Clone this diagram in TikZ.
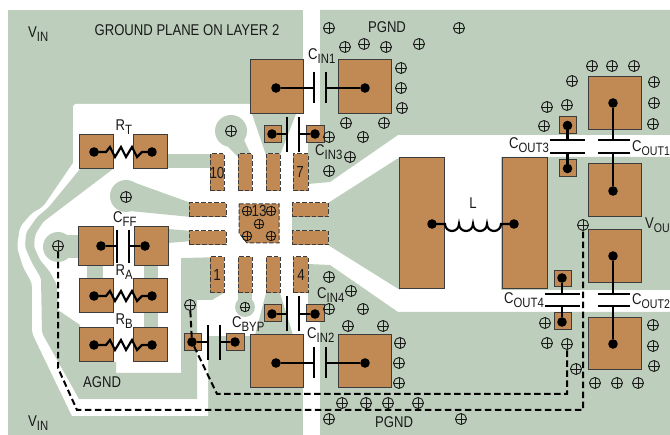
\documentclass[tikz,border=0pt]{standalone}
\usepackage{fontspec}
\setmainfont{Liberation Sans}[FakeStretch=0.84]
\definecolor{plane}{RGB}{189,207,188}
\definecolor{copper}{RGB}{193,138,84}
\definecolor{ink}{RGB}{25,25,25}
\newcommand\lbl[2]{#1\raisebox{-3.5pt}{\fontsize{13.5}{14}\selectfont #2}}
\newcommand\lblt[2]{#1\raisebox{-3.5pt}{\fontsize{12.6}{14}\selectfont #2}}
\tikzset{
  gp/.style={fill=plane,draw=none},
  wp/.style={fill=white,draw=none},
  padn/.style={rectangle,draw=ink!85,fill=copper,line width=1pt,inner sep=0pt,outer sep=0pt},
  pinn/.style={padn,dash pattern=on 4.5pt off 2pt},
  dotn/.style={circle,fill=black,draw=none,minimum size=9.6pt,inner sep=0pt,outer sep=0pt},
  wire/.style={draw=black,line width=2.2pt},
  plate/.style={draw=black,line width=2.6pt},
  trace/.style={draw=black,line width=2pt,dash pattern=on 6.5pt off 3.5pt},
  via/.style={circle,draw=ink,line width=0.9pt,minimum size=11pt,inner sep=0pt,
    path picture={\draw[line width=0.8pt,ink] (path picture bounding box.north)--(path picture bounding box.south)
      (path picture bounding box.west)--(path picture bounding box.east);}},
  smallvia/.style={via,minimum size=9.5pt},
  txt/.style={font=\fontsize{15.6}{17}\selectfont,text=ink,inner sep=0pt,anchor=west},
  pintxt/.style={font=\fontsize{16}{17}\selectfont,text=ink,inner sep=0pt}
}
\newcommand\padbox[6][padn]{\node[#1,minimum width={(#5-#3)*1pt},minimum height={(#6-#4)*1pt}] (#2) at ({(#3+#5)/2},{(#4+#6)/2}) {};}
\newcommand\capH[8]{%
  \node[dotn] (#1a) at (#2,#6) {}; \node[dotn] (#1b) at (#5,#6) {};
  \coordinate (#1p) at (#3,#6); \coordinate (#1q) at (#4,#6);
  \draw[plate] (#3,#7)--(#3,#8); \draw[plate] (#4,#7)--(#4,#8);
  \draw[wire] (#1a)--(#1p); \draw[wire] (#1b)--(#1q);}
\newcommand\capV[8]{%
  \node[dotn] (#1a) at (#2,#3) {}; \node[dotn] (#1b) at (#2,#6) {};
  \coordinate (#1p) at (#2,#4); \coordinate (#1q) at (#2,#5);
  \draw[plate] (#7,#4)--(#8,#4); \draw[plate] (#7,#5)--(#8,#5);
  \draw[wire] (#1a)--(#1p); \draw[wire] (#1b)--(#1q);}
\newcommand\resH[4]{%
  \node[dotn] (#1a) at (#2,#4) {}; \node[dotn] (#1b) at (#3,#4) {};
  \draw[wire,line join=miter] (#1a.center) -- ++(12,0) -- ++(4,-5) -- ++(5,10) -- ++(6,-10) -- ++(5,10) -- ++(6,-10) -- ++(5,10) -- ++(5,-5) -- (#1b.center);}
\begin{document}
\begin{tikzpicture}[x=1pt,y=-1pt]
\useasboundingbox (0,0) rectangle (670,435);
\clip (0,0) rectangle (670,435);
% planes
\fill[gp] (8,10) rectangle (303,435);
\fill[gp] (320,10) -- (670,10) -- (670,435) -- (320,435) -- (320,323) -- (308,305) -- (308,264) -- (330,265) -- (398,312) -- (670,312) -- (670,290) -- (501,290) -- (501,157) -- (670,157) -- (670,135) -- (398,135) -- (330,182) -- (308,184) -- (308,143) -- (320,125) -- cycle;
% clearance on the left
\fill[wp,rounded corners=3pt] (303,104) -- (73,104) [rounded corners=0pt] -- (73,163) [rounded corners=4pt] -- (43,207) -- (32,213) -- (20,227) -- (17,247) -- (23,267) -- (32,283) -- (32,333) [rounded corners=0pt] -- (72,416) -- (208,416) -- (208,336) -- (303,336) -- cycle;
% AGND copper
\fill[gp,rounded corners=3pt] (80,169) -- (48,208) -- (37,217) -- (26,233) -- (25,247) -- (32,263) -- (41,278) -- (42,333) [rounded corners=0pt] -- (79,399) -- (197,399) -- (197,300) -- (212,300) -- (224,293) -- (224,257) -- (183,258) -- (181,258) -- (181,373) -- (116,373) -- (116,362) -- (80,362) -- (80,325) -- (58,310) [rounded corners=3pt] -- (57,285) -- (50,272) -- (40,260) -- (34,247) -- (35,235) -- (43,222) [rounded corners=0pt] -- (113,169) -- cycle;
% islands
\fill[gp] (252,114) -- (296,114) -- (280,155) -- (266,155) -- cycle;
\fill[gp] (255,335) -- (293,335) -- (280,293) -- (266,293) -- cycle;
\fill[gp] (292,203) -- (328,203) -- (400,157) -- (400,290) -- (328,245) -- (292,245) -- cycle;
\fill[gp] (167,154) rectangle (212,168);
\fill[gp] (168,229) -- (192,231) -- (192,241) -- (168,243) -- cycle;
\fill[gp] (87,260) rectangle (103,285);
\fill[gp] (144,260) rectangle (158,285);
\fill[gp] (144,310) rectangle (158,332);
\fill[gp] (58,247) circle[radius=15];
\fill[gp] (58,235) rectangle (80,258);
\fill[gp] (126,196) circle[radius=16];
\fill[gp] (130,181) -- (191,203) -- (191,217) -- (130,211) -- cycle;
\fill[gp] (231,131) circle[radius=16];
\fill[gp] (243,138) -- (252,157) -- (238,157) -- (228,147) -- cycle;
\fill[gp] (245,307) circle[radius=10];
\fill[gp] (238,291) rectangle (252,305);
% component pads
\padbox{cinoa}{250}{60}{303}{113.5}
\padbox{cinob}{338}{60}{391}{113.5}
\padbox{cinta}{264}{126}{281}{143}
\padbox{cintb}{306}{126}{324}{143}
\padbox{rta}{79}{135}{113}{169}
\padbox{rtb}{133}{135}{167}{169}
\padbox{cffa}{78}{227}{113}{266}
\padbox{cffb}{134}{227}{168}{266}
\padbox{raa}{79}{279}{113}{313}
\padbox{rab}{133}{279}{167}{313}
\padbox{rba}{79}{328}{113}{362}
\padbox{rbb}{133}{328}{167}{362}
\padbox{cbya}{184}{334}{201}{351}
\padbox{cbyb}{226}{334}{244}{351}
\padbox{cifa}{264}{305}{281}{322}
\padbox{cifb}{306}{305}{324}{322}
\padbox{citwa}{250}{335}{303}{388}
\padbox{citwb}{338}{335}{391}{388}
\padbox{la}{399}{157.5}{444}{289}
\padbox{lb}{502}{157.5}{547}{289}
\padbox{cothrA}{559}{117}{576}{134}
\padbox{cothrB}{559}{160}{576}{177}
\padbox{cooA}{588}{77}{641}{130}
\padbox{cooB}{588}{164}{641}{217}
\padbox{cotA}{588}{230}{641}{283}
\padbox{cotB}{588}{318}{641}{370}
\padbox{cofA}{554}{271}{571}{287}
\padbox{cofB}{554}{313}{571}{330}
% IC pins
\padbox[pinn]{p10}{210}{154}{224}{191}
\padbox[pinn]{p9}{238}{154}{252}{191}
\padbox[pinn]{p8}{266}{154}{280}{191}
\padbox[pinn]{p7}{293}{154}{308}{191}
\padbox[pinn]{p1}{210}{257}{224}{293}
\padbox[pinn]{p2}{238}{257}{252}{293}
\padbox[pinn]{p3}{266}{257}{280}{293}
\padbox[pinn]{p4}{293}{257}{308}{293}
\padbox[pinn]{pl1}{189}{203}{226}{217}
\padbox[pinn]{pl2}{189}{231}{226}{245}
\padbox[pinn]{pr1}{292}{203}{328}{217}
\padbox[pinn]{pr2}{292}{231}{328}{245}
\draw[fill=copper,draw=ink!85,line width=1pt,dash pattern=on 4.5pt off 2pt] (239,204) -- (279,204) -- (279,243) -- (247,243) -- (239,233) -- cycle;
% components
\capH{cino}{276}{314}{326}{365}{88}{72}{103}
\capH{cint}{272}{287}{299}{315}{134}{117}{152}
\capH{cff}{101}{117}{129}{145}{246}{230}{263}
\capH{cbyp}{192}{208}{220}{235}{342}{325}{360}
\capH{cif}{272}{287}{299}{315}{314}{296}{331}
\capH{citw}{276}{314}{326}{365}{363}{347}{378}
\capV{cothr}{567.5}{125.5}{140}{153}{168.5}{550}{585}
\capV{coo}{613}{103}{140}{153}{191}{598}{630}
\capV{cot}{613}{256}{294}{306}{344}{598}{630}
\capV{cof}{562}{278}{294}{306}{322}{545}{580}
\resH{rt}{94}{152}{152}
\resH{ra}{94}{152}{296}
\resH{rb}{94}{152}{345}
% inductor
\node[dotn] (ldota) at (432,224) {};
\node[dotn] (ldotb) at (514,224) {};
\draw[wire] (ldota.center) -- (445,224) arc[start angle=180,end angle=0,radius=7] arc[start angle=180,end angle=0,radius=7] arc[start angle=180,end angle=0,radius=7] arc[start angle=180,end angle=0,radius=7] -- (ldotb.center);
% vias
\foreach \n/\x/\y in {a1/329/28,a2/459/28,a3/345/47,a4/364/44,a5/386/47,a6/419/44,a7/401/68,a8/401/88,a9/402/108,a10/346/123,a11/384/123,a12/329/137,a13/363/137,a14/350/157,a15/329/171,
 b1/592/66,b2/612/66,b3/634/66,b4/572/81,b5/654/82,b6/654/103,b7/653/124,b8/567/105,b9/547/107,b10/544/126,
 c1/329/277,c2/351/291,c3/329/309,c4/363/309,c5/348/326,c6/383/326,c7/400/343,c8/399/363,c9/399/383,c10/342/403,c11/366/403,c12/388/403,c13/418/403,c14/461/419,c15/329/419,
 d1/653/325,d2/653/346,d3/654/366,d4/595/383,d5/617/383,d6/638/383,d7/545/323,d8/547/343,d9/576/369,
 e1/231/131,e2/126/197}
 {\node[via] (v\n) at (\x,\y) {};}
\foreach \n/\x/\y in {f1/247/211,f2/271/211,f3/259/224,f4/247/236,f5/271/236,f6/245/307}
 {\node[smallvia] (v\n) at (\x,\y) {};}
\node[via] (vout) at (583,225) {};
\node[via] (vag) at (58,246) {};
\node[via] (vby) at (190,305) {};
\node[via] (vpg) at (567,344) {};
% routed traces on the other layer
\coordinate (t1) at (58,368); \coordinate (t2) at (77,410); \coordinate (t3) at (583,410);
\draw[trace] (vag) -- (t1) -- (t2) -- (t3) -- (vout);
\coordinate (t4) at (217,394); \coordinate (t5) at (567,394);
\draw[trace] (vby) -- (cbypa);
\draw[trace] (cbypa) -- (t4) -- (t5) -- (vpg);
% labels
\node[txt] (n1) at (28,34) {\lbl{V}{IN}};
\node[txt,anchor=center] (n2) at (187,30) {GROUND PLANE ON LAYER 2};
\node[txt] (n3) at (308,56) {\lbl{C}{IN1}};
\node[txt,anchor=center] (n4) at (387,27) {PGND};
\node[txt] (n5) at (115.5,127) {\lbl{R}{T}};
\node[txt] (n6) at (315,152) {\lbl{C}{IN3}};
\node[txt] (n7) at (113,219) {\lbl{C}{FF}};
\node[txt] (n8) at (115.5,272) {\lbl{R}{A}};
\node[txt] (n9) at (115.5,321) {\lbl{R}{B}};
\node[txt] (n10) at (83,382) {AGND};
\node[txt] (n11) at (28,423) {\lbl{V}{IN}};
\node[txt] (n12) at (232,324) {\lbl{C}{BYP}};
\node[txt] (n13) at (307,335) {\lbl{C}{IN2}};
\node[txt] (n14) at (317,295) {\lbl{C}{IN4}};
\node[txt] (n15) at (375,422) {PGND};
\node[txt,anchor=center] (n16) at (473,203) {L};
\node[txt] (n17) at (509,145) {\lbl{C}{OUT3}};
\node[txt] (n18) at (632,148) {\lblt{C}{OUT1}};
\node[txt] (n19) at (645,225) {\lblt{V}{OUT}};
\node[txt] (n20) at (632,301) {\lblt{C}{OUT2}};
\node[txt] (n21) at (504,300) {\lbl{C}{OUT4}};
\node[pintxt] (m1) at (217,173) {10};
\node[pintxt] (m2) at (300,172) {7};
\node[pintxt] (m3) at (217,275) {1};
\node[pintxt] (m4) at (301,275) {4};
\node[pintxt] (m5) at (259,211) {13};
\end{tikzpicture}
\end{document}
